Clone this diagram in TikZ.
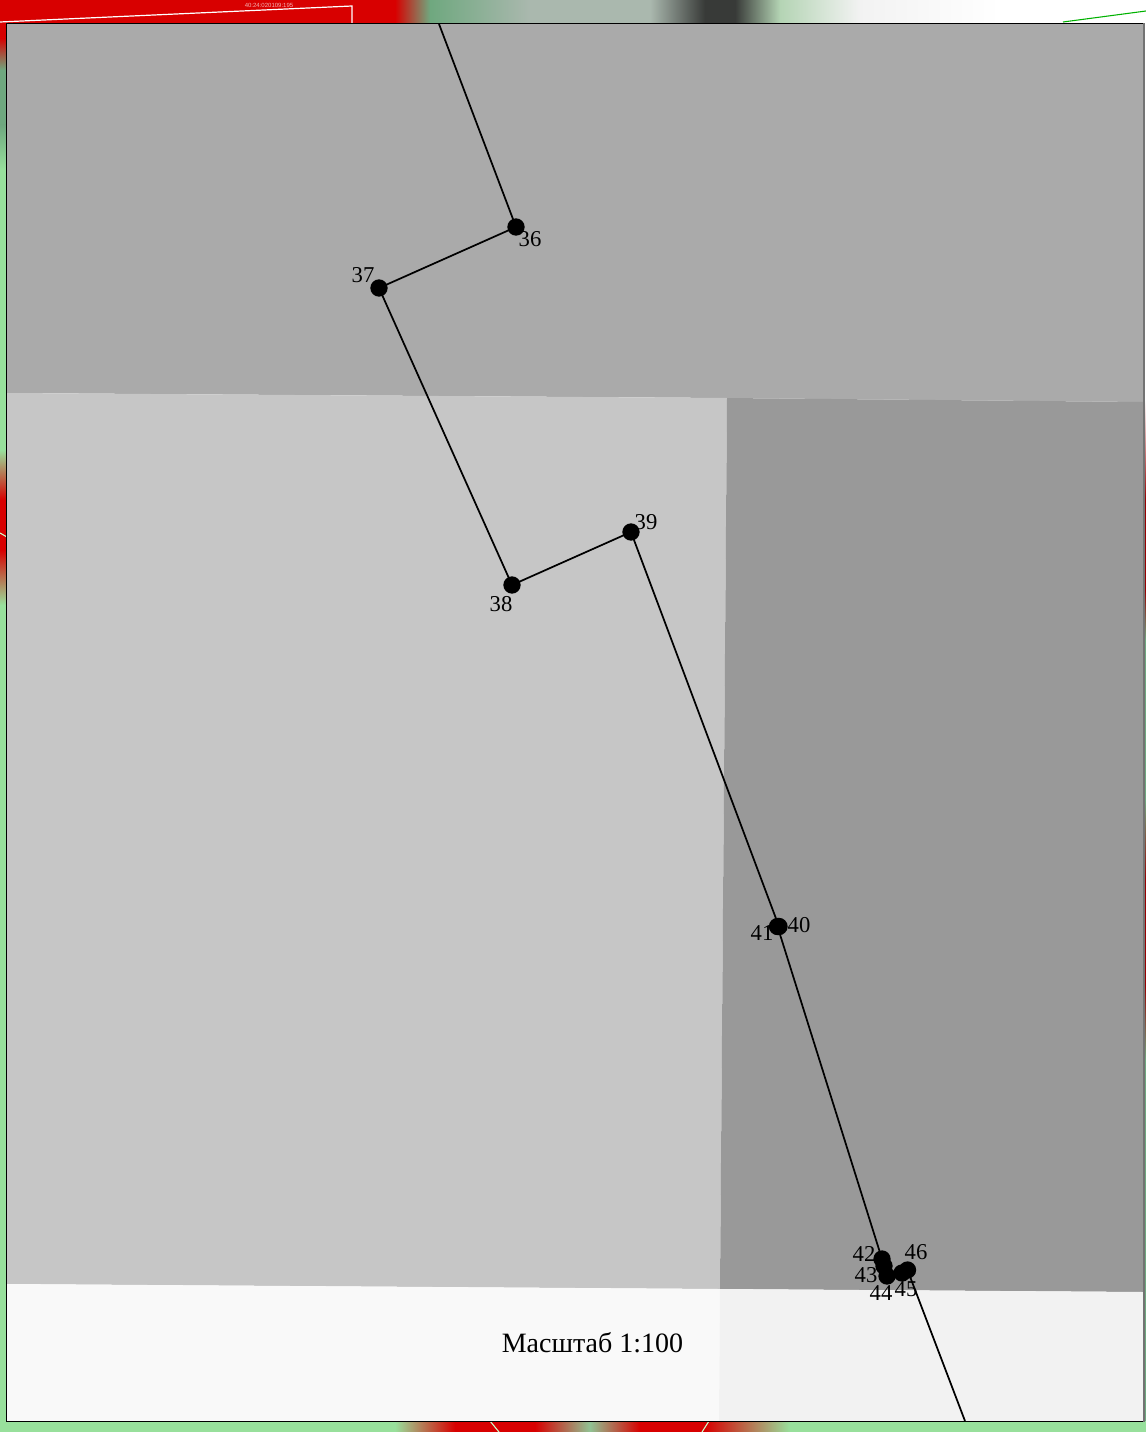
\documentclass[tikz,border=0pt]{standalone}
\usepackage{fontspec}
\setmainfont{Liberation Serif}
\newfontfamily\tinysans{Liberation Sans}
\definecolor{rd}{HTML}{D80000}
\definecolor{gn}{HTML}{98E09C}
\definecolor{dgn}{HTML}{6FA87F}
\definecolor{lgy}{HTML}{AAB8AE}
\definecolor{dk}{HTML}{383A38}
\definecolor{pg}{HTML}{B4D4B4}
\tikzset{
  pt/.style={circle,fill=black,inner sep=0pt,minimum size=13bp},
  lbl/.style={inner sep=0pt,font=\fontsize{17bp}{18bp}\selectfont},
  seg/.style={draw=black,line width=1.3bp},
  thin white/.style={draw=white,line width=0.9bp}
}
\begin{document}
\begin{tikzpicture}[x=0.75bp,y=-0.75bp]
\useasboundingbox (0,0) rectangle (1146,1432);
% strips
\fill[white] (0,0) rectangle (1146,1432);
\fill[rd] (0,0) rectangle (395,24);
\shade[left color=rd,right color=dgn] (395,0) rectangle (430,24);
\shade[left color=dgn,right color=lgy] (430,0) rectangle (530,24);
\fill[lgy] (530,0) rectangle (650,24);
\shade[left color=lgy,right color=dk] (650,0) rectangle (705,24);
\fill[dk] (705,0) rectangle (735,24);
\shade[left color=dk,right color=pg] (735,0) rectangle (780,24);
\shade[left color=pg,right color=black!5] (780,0) rectangle (860,24);
\shade[left color=black!5,right color=white] (860,0) rectangle (1000,24);
% left strip
\fill[gn] (0,24) rectangle (7,1432);
\fill[rd] (0,24) rectangle (7,38);
\shade[top color=rd,bottom color=dgn] (0,38) rectangle (7,70);
\fill[dgn] (0,70) rectangle (7,125);
\shade[top color=dgn,bottom color=gn] (0,125) rectangle (7,170);
\shade[top color=gn,bottom color=rd] (0,450) rectangle (7,500);
\fill[rd] (0,500) rectangle (7,550);
\shade[top color=rd,bottom color=gn] (0,550) rectangle (7,605);
% bottom strip
\fill[gn] (0,1421) rectangle (1146,1432);
\shade[left color=gn,right color=rd] (395,1421) rectangle (455,1432);
\fill[rd] (455,1421) rectangle (535,1432);
\shade[left color=rd,right color=gn!70!gray] (535,1421) rectangle (590,1432);
\shade[left color=gn!70!gray,right color=rd] (590,1421) rectangle (640,1432);
\fill[rd] (640,1421) rectangle (705,1432);
\shade[left color=rd,right color=gn] (705,1421) rectangle (790,1432);
% right strip
\fill[white] (1144,24) rectangle (1146,480);
\shade[top color=white,bottom color=rd!70!black] (1144,400) rectangle (1146,500);
\fill[rd!70!black] (1144,500) rectangle (1146,590);
\shade[top color=rd!70!black,bottom color=dgn] (1144,590) rectangle (1146,640);
\fill[dgn] (1144,640) rectangle (1146,800);
\shade[top color=dgn,bottom color=rd!70!black] (1144,800) rectangle (1146,880);
\fill[rd!70!black] (1144,880) rectangle (1146,985);
\shade[top color=rd!70!black,bottom color=dgn] (1144,985) rectangle (1146,1060);
\fill[dgn] (1144,1060) rectangle (1146,1421);
% outside lines
\coordinate (wa) at (0,22); \coordinate (wb) at (352,6); \coordinate (wc) at (352,24);
\draw[thin white] (wa) -- (wb) -- (wc);
\coordinate (ga) at (1063,22); \coordinate (gb) at (1146,11);
\draw[draw=green!70!black,line width=0.8bp] (ga) -- (gb);
\coordinate (la) at (0,533); \coordinate (lb) at (7,537);
\draw[draw=white!80!green,line width=0.8bp] (la) -- (lb);
\coordinate (ba) at (490,1421); \coordinate (bb) at (499,1432);
\draw[draw=white!80!green,line width=0.8bp] (ba) -- (bb);
\coordinate (ca) at (709,1421); \coordinate (cb) at (702,1432);
\draw[draw=white!80!green,line width=0.8bp] (ca) -- (cb);
\node[inner sep=0pt,text=white!70!rd,font=\tinysans\fontsize{4.5bp}{6bp}\selectfont] (tiny) at (269,5) {40:24:020109:195};
% regions
\fill[black!33.5] (7,24) -- (1144,24) -- (1144,402) -- (727,398) -- (7,393) -- cycle;
\fill[black!22.5] (7,393) -- (727,398) -- (720,1289) -- (7,1284) -- cycle;
\fill[black!40] (727,398) -- (1144,402) -- (1144,1292) -- (720,1289) -- cycle;
\fill[black!2.5] (7,1284) -- (720,1289) -- (719,1421) -- (7,1421) -- cycle;
\fill[black!5] (720,1289) -- (1144,1292) -- (1144,1421) -- (719,1421) -- cycle;
\draw[black,line width=0.9bp] (6.5,23.5) -- (1144,23.5);
\draw[black,line width=1.1bp] (6.5,23.5) -- (6.5,1421.5) -- (1144,1421.5);
\draw[black!55,line width=1bp] (1144,23.5) -- (1144,1421.5);
% points
\node[pt] (p36) at (516,227) {};
\node[pt] (p37) at (379,288) {};
\node[pt] (p38) at (512,585) {};
\node[pt] (p39) at (631,532) {};
\node[pt] (p40) at (779,926.5) {};
\node[pt] (p41) at (777.5,926.5) {};
\node[pt] (p42) at (882,1259) {};
\node[pt] (p43) at (884,1266) {};
\node[pt] (p44) at (887,1276) {};
\node[pt] (p45) at (902,1273) {};
\node[pt] (p46) at (907.5,1270) {};
\coordinate (top) at (439,24);
\coordinate (bot) at (965,1421);
\draw[seg] (top) -- (p36.center) -- (p37.center) -- (p38.center) -- (p39.center) -- (p40.center) -- (p41.center) -- (p42.center) -- (p43.center) -- (p44.center) -- (p45.center) -- (p46.center) -- (bot);
% labels
\node[lbl] (l36) at (530,239) {36};
\node[lbl] (l37) at (363,275) {37};
\node[lbl] (l38) at (501,604) {38};
\node[lbl] (l39) at (646,522) {39};
\node[lbl] (l40) at (799,925) {40};
\node[lbl] (l41) at (762,933) {41};
\node[lbl] (l42) at (864,1253.5) {42};
\node[lbl] (l43) at (866,1275) {43};
\node[lbl] (l44) at (881,1293) {44};
\node[lbl] (l45) at (906,1289) {45};
\node[lbl] (l46) at (916,1252) {46};
\node[inner sep=0pt,font=\fontsize{21bp}{24bp}\selectfont] (scale) at (592.5,1343) {Масштаб 1:100};
\end{tikzpicture}
\end{document}
